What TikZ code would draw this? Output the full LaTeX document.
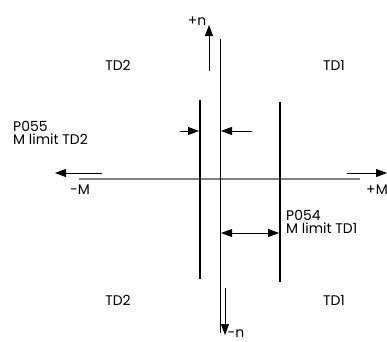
\documentclass[tikz,border=0pt]{standalone}
\usepackage{fontspec}
\setmainfont{Poppins}
\usetikzlibrary{arrows.meta}
\begin{document}
\begin{tikzpicture}[x=1bp,y=-1bp,
  lbl/.style={inner sep=0pt,font=\fontsize{14}{13.5}\selectfont},
  thinline/.style={draw=black,line width=0.8bp},
  thickline/.style={draw=black,line width=1.8bp},
  axisline/.style={draw=black!50,line width=1.5bp},
  arr/.style={draw=black,line width=0.8bp,-{Triangle[length=11bp,width=8bp]}},
  darr/.style={draw=black,line width=0.8bp,{Triangle[length=11bp,width=8bp]}-{Triangle[length=11bp,width=8bp]}}]
\useasboundingbox (0,0) rectangle (387,342);
% coordinates
\coordinate (nT) at (220,39);
\coordinate (nB) at (220,333);
\coordinate (L1) at (200,100);
\coordinate (L2) at (200,279);
\coordinate (R1) at (280,102);
\coordinate (R2) at (280,282);
\coordinate (gA) at (79,179);
\coordinate (gB) at (360,179);
\coordinate (pnA) at (209,71);
\coordinate (pnB) at (209,25);
\coordinate (mnA) at (225,288);
\coordinate (mnB) at (225,335);
\coordinate (mMA) at (102,173);
\coordinate (mMB) at (55,173);
\coordinate (pMA) at (347,173);
\coordinate (pMB) at (387,173);
\coordinate (la) at (180,131);
\coordinate (lb) at (199,131);
\coordinate (ra) at (252,131);
\coordinate (rb) at (221,131);
\coordinate (da) at (221,233);
\coordinate (db) at (279,233);
% lines
\draw[axisline] (gA) -- (gB);
\draw[thinline] (nT) -- (nB);
\draw[thickline] (L1) -- (L2);
\draw[thickline] (R1) -- (R2);
% arrows
\draw[arr] (pnA) -- (pnB);
\draw[arr] (mnA) -- (mnB);
\draw[arr] (mMA) -- (mMB);
\draw[arr] (pMA) -- (pMB);
\draw[arr] (la) -- (lb);
\draw[arr] (ra) -- (rb);
\draw[darr] (da) -- (db);
% labels
\node[lbl] (pn) at (197,21) {+n};
\node[lbl] (mn) at (236,334) {-n};
\node[lbl] (mM) at (80,190) {-M};
\node[lbl] (pM) at (377,190) {+M};
\node[lbl] (td2a) at (118,65) {TD2};
\node[lbl] (td1a) at (334,65) {TD1};
\node[lbl] (td2b) at (118,300) {TD2};
\node[lbl] (td1b) at (334,300) {TD1};
\node[lbl,anchor=west,align=left] (p055) at (13,133) {P055\\M limit TD2};
\node[lbl,anchor=west,align=left] (p054) at (286,222) {P054\\M limit TD1};
\end{tikzpicture}
\end{document}
